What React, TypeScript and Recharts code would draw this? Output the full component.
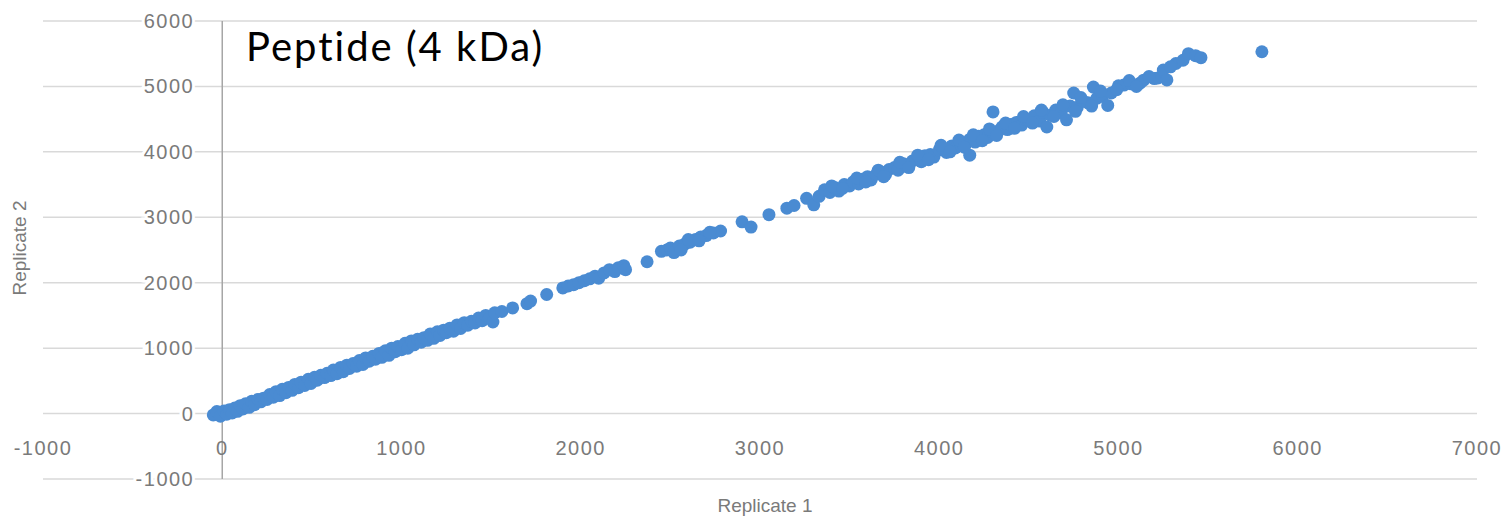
import { ScatterChart, Scatter, XAxis, YAxis, CartesianGrid, ReferenceLine } from "recharts";

// [replicate 1, replicate 2], grouped by region of the curve
const lowRange: [number, number][] = [
  [-50, -20], [-30, 30], [-10, -40], [10, 40], [25, -10], [40, 60], [55, 10], [70, 85], [85, 35], [100, 120],
  [115, 70], [130, 150], [150, 95], [165, 190], [180, 135], [200, 215], [215, 180], [230, 235], [250, 215],
  [265, 290], [285, 250], [300, 335], [320, 275], [335, 370], [355, 320], [370, 400], [390, 355], [405, 445],
  [425, 395], [440, 480], [460, 430], [480, 525], [495, 460], [515, 555], [530, 510], [550, 585], [570, 550],
  [585, 615], [605, 580], [620, 665], [640, 610], [660, 705], [675, 640], [695, 740], [710, 690], [730, 765],
  [750, 725], [765, 810], [785, 750], [800, 850], [820, 800], [840, 875], [855, 830], [875, 920], [890, 860],
  [910, 960], [930, 890], [945, 1000], [965, 945], [980, 1025], [1000, 975], [1020, 1075], [1035, 1000],
  [1055, 1110], [1070, 1050], [1090, 1135], [1110, 1090], [1125, 1160], [1145, 1120], [1160, 1215],
  [1180, 1150], [1200, 1250], [1215, 1195], [1235, 1275], [1250, 1235], [1270, 1305], [1290, 1260],
  [1310, 1355], [1330, 1300], [1350, 1390],
];

const midRange: [number, number][] = [
  [1370, 1350], [1390, 1410], [1410, 1385], [1430, 1460], [1450, 1420], [1470, 1500], [1490, 1460],
  [1510, 1400], [1520, 1540], [1560, 1560], [1620, 1615], [1700, 1680], [1720, 1720], [1810, 1820],
  [1900, 1920], [1930, 1950], [1960, 1970], [1990, 2000], [2020, 2030], [2050, 2060], [2080, 2100],
  [2100, 2070], [2130, 2150], [2160, 2200], [2190, 2170], [2210, 2230], [2240, 2260], [2250, 2200],
  [2370, 2320], [2450, 2480], [2480, 2500], [2500, 2530], [2520, 2460], [2550, 2560], [2580, 2590],
  [2610, 2620], [2640, 2660], [2670, 2700], [2700, 2720], [2740, 2760], [2780, 2790],
  [2560, 2500], [2600, 2660], [2660, 2640], [2720, 2770],
  [2900, 2930], [2950, 2850], [3050, 3040], [3150, 3140], [3190, 3180], [3260, 3290], [3300, 3190],
  [3330, 3320],
];

const highRange: [number, number][] = [
  [3360, 3420], [3390, 3380], [3420, 3450], [3440, 3400], [3470, 3500], [3500, 3480], [3520, 3540],
  [3550, 3510], [3570, 3580], [3600, 3620], [3620, 3570], [3650, 3660], [3680, 3690], [3700, 3650],
  [3720, 3730], [3750, 3760], [3770, 3720], [3800, 3820], [3820, 3780], [3850, 3860], [3870, 3880],
  [3900, 3850], [3920, 3940], [3950, 3960], [3970, 3920], [4000, 4030], [4020, 4050], [4040, 3990],
  [4070, 4090], [4090, 4060], [4120, 4140], [4150, 4130], [4170, 3950], [4170, 4190], [4200, 4150],
  [4220, 4240], [4250, 4260], [4270, 4220], [4300, 4300], [4330, 4320], [4350, 4380], [4380, 4340],
  [4400, 4420], [4430, 4450], [4460, 4410], [4480, 4500], [4500, 4480], [4530, 4550], [4560, 4470],
  [4580, 4600], [4600, 4380], [4620, 4560], [4650, 4640], [4680, 4600], [4710, 4490], [4730, 4700],
  [4750, 4900], [4770, 4680], [4800, 4780], [4830, 4750], [4860, 4990], [4880, 4820], [4910, 4850],
  [4940, 4710], [4960, 4900], [5000, 5010], [5030, 5020], [5070, 5040], [5120, 5050], [5140, 5095],
  [5200, 5120], [5220, 5130], [5250, 5250], [5270, 5100], [5320, 5350], [5360, 5400], [5390, 5500],
  [5430, 5470], [5460, 5440],
];

// the looser part of the upper band, above and below the main trend
const highSpread: [number, number][] = [
  [3400, 3480], [3460, 3440], [3540, 3600], [3590, 3540], [3660, 3720], [3690, 3620], [3780, 3840],
  [3830, 3760], [3880, 3950], [3940, 3880], [4010, 4100], [4060, 4000], [4110, 4180], [4140, 4070],
  [4190, 4260], [4240, 4170], [4280, 4350], [4320, 4250], [4370, 4440], [4420, 4360], [4470, 4540],
  [4520, 4440], [4570, 4640], [4640, 4540], [4690, 4720], [4760, 4620], [4790, 4830], [4850, 4700],
  [4900, 4930], [4990, 4950], [5060, 5090], [5100, 5000], [5170, 5150], [5290, 5300],
];

const outliers: [number, number][] = [
  [4300, 4610],
  [5800, 5530],
];

const xTicks = [-1000, 0, 1000, 2000, 3000, 4000, 5000, 6000, 7000];
const yTicks = [-1000, 0, 1000, 2000, 3000, 4000, 5000, 6000];
const xDomain: [number, number] = [-1000, 7000];
const yDomain: [number, number] = [-1000, 6000];

const W = 1509;
const H = 517;
const yAxisW = 30;
const margin = { top: 21, right: 32, left: 43 - yAxisW, bottom: 0 };
const xAxisH = 38;
const plotLeft = margin.left + yAxisW;
const plotW = W - plotLeft - margin.right;
const plotH = H - margin.top - margin.bottom - xAxisH;
// where the axes cross (value 0 on both)
const zeroX = plotLeft + (plotW * (0 - xDomain[0])) / (xDomain[1] - xDomain[0]);
const zeroY = margin.top + (plotH * (yDomain[1] - 0)) / (yDomain[1] - yDomain[0]);

const data = [...lowRange, ...midRange, ...highRange, ...highSpread, ...outliers].map(([x, y]) => ({ x, y }));

const tickFont = {
  fontFamily: "'Liberation Sans', Arial, sans-serif",
  fontSize: 20,
  letterSpacing: 1.5,
};

function XTick({ x, payload }: any) {
  return (
    <text x={x} y={zeroY + 34} textAnchor="middle" dominantBaseline="central" fill="#7a7a7a" {...tickFont}>
      {payload.value}
    </text>
  );
}

function YTick({ y, payload }: any) {
  return (
    <g>
      <text
        x={zeroX - 28}
        y={y}
        textAnchor="end"
        dominantBaseline="central"
        fill="#fff"
        stroke="#fff"
        strokeWidth={6}
        {...tickFont}
      >
        {payload.value}
      </text>
      <text x={zeroX - 28} y={y} textAnchor="end" dominantBaseline="central" fill="#7a7a7a" {...tickFont}>
        {payload.value}
      </text>
    </g>
  );
}

const Dot = (props: any) => <circle cx={props.cx} cy={props.cy} r={6.5} fill="#4a8bd2" />;

export default function App() {
  return (
    <div style={{ position: "absolute", left: 0, top: 0, width: W, height: H, background: "#fff" }}>
      <ScatterChart width={W} height={H} margin={margin}>
        <CartesianGrid vertical={false} stroke="#d9d9d9" strokeWidth={1.5} />
        <XAxis
          type="number"
          dataKey="x"
          domain={xDomain}
          ticks={xTicks}
          interval={0}
          height={xAxisH}
          axisLine={false}
          tickLine={false}
          tick={<XTick />}
        />
        <YAxis
          type="number"
          dataKey="y"
          domain={yDomain}
          ticks={yTicks}
          interval={0}
          width={yAxisW}
          axisLine={false}
          tickLine={false}
          tick={<YTick />}
        />
        <ReferenceLine x={0} stroke="#a6a6a6" strokeWidth={1.5} />
        <Scatter data={data} shape={<Dot />} isAnimationActive={false} />
      </ScatterChart>
      <div
        style={{
          position: "absolute",
          left: 246,
          top: 22,
          fontFamily: "Lato, 'Open Sans', sans-serif",
          fontSize: 40,
          letterSpacing: 2,
          lineHeight: "48px",
          color: "#000",
          whiteSpace: "nowrap",
        }}
      >
        Peptide (4 kDa)
      </div>
      <div
        style={{
          position: "absolute",
          left: 765,
          top: 506,
          transform: "translate(-50%, -50%)",
          fontFamily: "'Liberation Sans', Arial, sans-serif",
          fontSize: 19,
          color: "#7a7a7a",
          whiteSpace: "nowrap",
        }}
      >
        Replicate 1
      </div>
      <div
        style={{
          position: "absolute",
          left: 20,
          top: 248,
          transform: "translate(-50%, -50%) rotate(-90deg)",
          fontFamily: "'Liberation Sans', Arial, sans-serif",
          fontSize: 19,
          color: "#7a7a7a",
          whiteSpace: "nowrap",
        }}
      >
        Replicate 2
      </div>
    </div>
  );
}
